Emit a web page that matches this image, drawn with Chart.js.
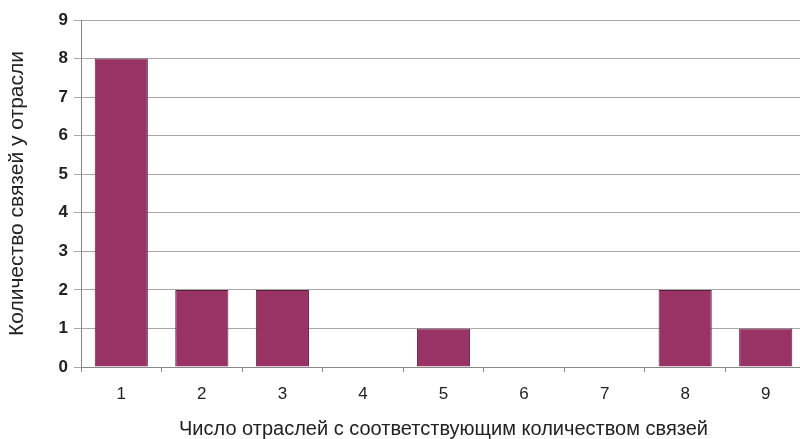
<!DOCTYPE html>
<html>
<head>
<meta charset="utf-8">
<script src="https://cdn.jsdelivr.net/npm/chart.js@4/dist/chart.umd.min.js"></script>
<style>
  html, body { margin: 0; padding: 0; background: #fff; overflow: hidden; }
  #wrap { width: 806px; height: 439px; position: relative; }
</style>
</head>
<body>
<div id="wrap"><canvas id="c"></canvas></div>
<script>
// Number of industries (x) vs. number of links per industry (y)
const categories = ['1', '2', '3', '4', '5', '6', '7', '8', '9'];
const linkCounts = [8, 2, 2, 0, 1, 0, 0, 2, 1];
const yTicks = [0, 1, 2, 3, 4, 5, 6, 7, 8, 9];
const xTitle = 'Число отраслей с соответствующим количеством связей';
const yTitle = 'Количество связей у отрасли';

const family = '"Liberation Sans", Arial, sans-serif';

new Chart(document.getElementById('c'), {
  type: 'bar',
  data: {
    labels: categories,
    datasets: [{
      data: linkCounts,
      backgroundColor: '#993366',
      borderColor: '#5e1f3f',
      borderWidth: 1,
      barPercentage: 0.66,
      categoryPercentage: 1.0
    }]
  },
  options: {
    responsive: true,
    maintainAspectRatio: false,
    animation: false,
    layout: { padding: { top: 20, right: 0, bottom: 0, left: 0 } },
    plugins: { legend: { display: false }, tooltip: { enabled: false } },
    scales: {
      x: {
        afterFit: (axis) => { axis.height = 72; },
        grid: { display: true, offset: true, drawOnChartArea: false, drawTicks: true, tickLength: 5, color: '#888' },
        border: { color: '#888', width: 1 },
        ticks: { color: '#222', font: { family, size: 17 }, padding: 12 },
        title: { display: true, text: xTitle, color: '#222', font: { family, size: 20, lineHeight: 1 }, padding: { top: 14, bottom: 0 } }
      },
      y: {
        min: 0, max: 9,
        afterBuildTicks: (axis) => { axis.ticks = yTicks.map(v => ({ value: v })); },
        afterFit: (axis) => { axis.width = 81; },
        grid: { color: '#a8a8a8', tickLength: 7, drawTicks: true },
        border: { color: '#888', width: 1 },
        ticks: { color: '#222', font: { family, size: 17, weight: 'bold' }, padding: 6 },
        title: { display: true, text: yTitle, color: '#222', font: { family, size: 21, lineHeight: 1 }, padding: { top: 7, bottom: 0 } }
      }
    }
  }
});
</script>
</body>
</html>
